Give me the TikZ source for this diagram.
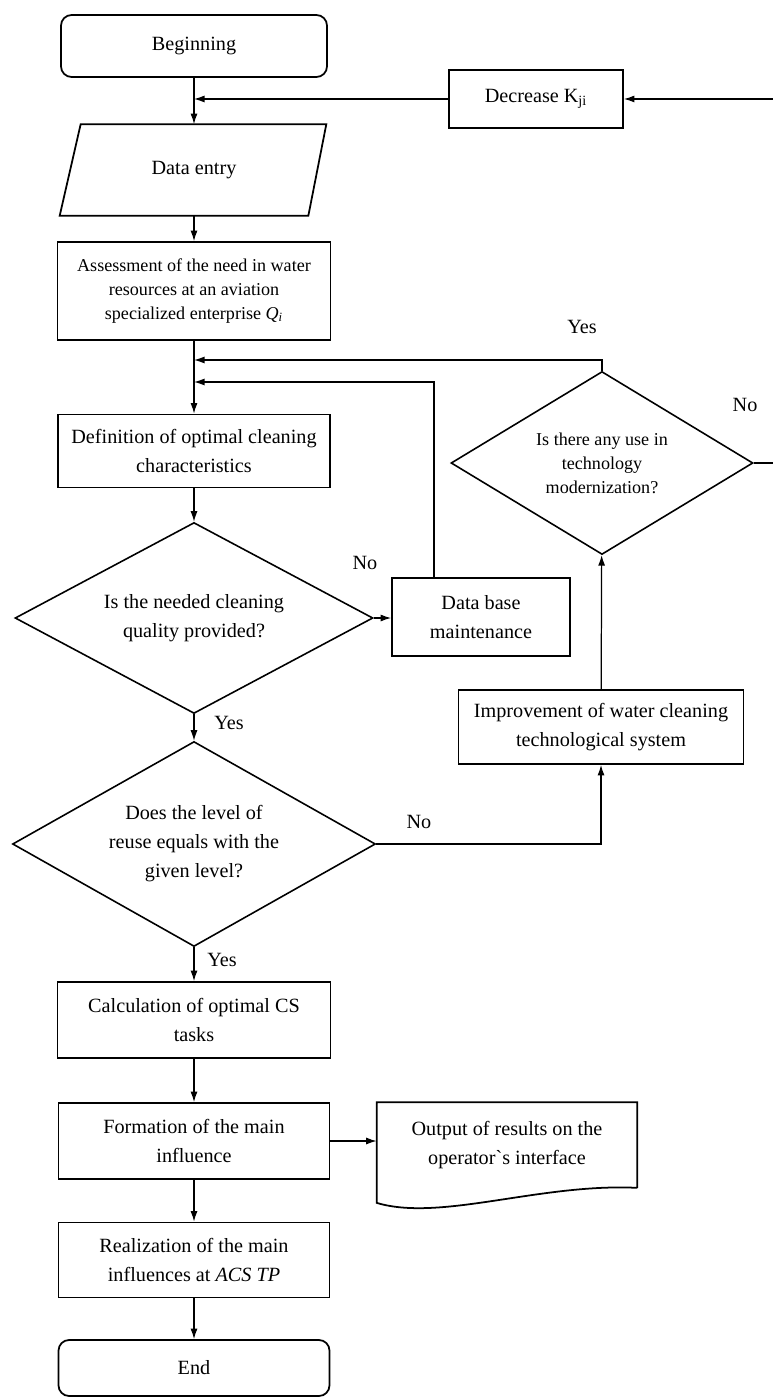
\documentclass[tikz,border=0pt]{standalone}
\usepackage{fontspec}
\setmainfont{Liberation Serif}
\usetikzlibrary{arrows.meta,shapes.geometric,calc}
\tikzset{>={Latex[length=6pt,width=4pt]},every node/.style={font=\fontsize{11.5}{16.5}\selectfont},
edge/.style={line width=.7pt},flow/.style={edge,->},
blk/.style={draw,line width=1pt,align=center,inner sep=0pt},
term/.style={blk,rounded corners=6pt},
cond/.style={draw,line width=.9pt,diamond,aspect=2,align=center,inner sep=0pt},
sm/.style={font=\fontsize{10.3}{13.6}\selectfont}}

\begin{document}
\begin{tikzpicture}[x=.02cm,y=-.02cm]
\useasboundingbox (0,0) rectangle (773,1398);
% main column
\node[term,minimum width=5.32cm,minimum height=1.24cm] (start) at (194,46) {Beginning};
\node[minimum width=4.9cm,minimum height=1.82cm,inner sep=0pt] (data) at (194,170) {Data entry};
\draw[line width=1pt] ($(data.north west)+(9.5,0)$) -- ($(data.north east)+(9.5,0)$) -- ($(data.south east)+(-8.5,0)$) -- ($(data.south west)+(-11.5,0)$) -- cycle;
\node[blk,sm,minimum width=5.46cm,minimum height=1.96cm] (assess) at (194,291) {Assessment of the need in water\\resources at an aviation\\specialized enterprise \textit{Q}\textsubscript{\textit{i}}};
\node[blk,minimum width=5.44cm,minimum height=1.46cm] (def) at (194,451) {Definition of optimal cleaning\\characteristics};
\node[cond,minimum width=7.16cm,minimum height=3.82cm] (d1) at (194,618) {Is the needed cleaning\\quality provided?};
\node[cond,minimum width=7.26cm,minimum height=4.1cm] (d2) at (194,844) {Does the level of\\reuse equals with the\\given level?};
\node[blk,minimum width=5.46cm,minimum height=1.52cm] (calc) at (194,1020) {Calculation of optimal CS\\tasks};
\node[blk,minimum width=5.42cm,minimum height=1.52cm] (form) at (194,1141) {Formation of the main\\influence};
\node[blk,minimum width=5.42cm,minimum height=1.5cm] (real) at (194,1260) {Realization of the main\\influences at \textit{ACS TP}};
\node[term,minimum width=5.42cm,minimum height=1.12cm] (finish) at (194,1368) {End};
% right side
\node[blk,minimum width=3.48cm,minimum height=1.16cm] (dec) at (536,99) {Decrease K\textsubscript{ji}};
\node[blk,minimum width=3.56cm,minimum height=1.56cm] (db) at (481,617) {Data base\\maintenance};
\node[cond,sm,minimum width=6.04cm,minimum height=3.66cm] (mod) at (602,463) {Is there any use in\\technology\\modernization?};
\node[blk,minimum width=5.7cm,minimum height=1.48cm] (imp) at (601,727) {Improvement of water cleaning\\technological system};
\node[minimum width=5.2cm,minimum height=1.7cm,align=center,inner sep=0pt] (out) at (507,1145) {Output of results on the\\operator\textasciigrave s interface};
\draw[line width=1pt] (out.south east) -- (out.north east) -- (out.north west) -- (out.south west) -- ++(0,15) .. controls (440,1222) and (540,1183) .. (out.south east);
\coordinate (yesjoin) at (194,360);\coordinate (dbjoin) at (194,382);
\coordinate (rim1) at (773,99);\coordinate (rim2) at (773,463);
% labels
\node (yes1) at (582,327) {Yes};\node (no1) at (745,405) {No};\node (no2) at (365,563) {No};
\node (yes2) at (229,723) {Yes};\node (no3) at (419,822) {No};\node (yes3) at (222,960) {Yes};
% connectors
\draw[flow] (start) -- (data);\draw[flow] (data) -- (assess);\draw[flow] (assess) -- (def);
\draw[flow] (rim1) -- (dec);\draw[flow] (dec) -- (dec -| start);
\draw[flow] (mod.north) |- (yesjoin);\draw[flow] ([xshift=-.94cm]db.north) |- (dbjoin);
\draw[flow] (def) -- (d1);\draw[flow] (d1.east) -- (d1.east -| db.west);\draw[flow] (d1) -- (d2);
\draw[flow] (d2.east) -| (imp.south);\draw[flow] (imp) -- (mod);\draw[edge] (mod.east) -- (rim2);
\draw[flow] (d2) -- (calc);\draw[flow] (calc) -- (form);\draw[flow] (form.east) -- (form.east -| out.west);
\draw[flow] (form) -- (real);\draw[flow] (real) -- (finish);
\end{tikzpicture}
\end{document}
